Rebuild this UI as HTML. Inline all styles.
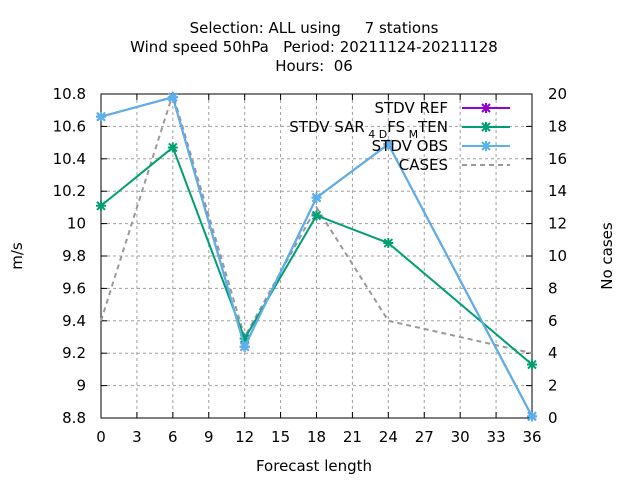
<!DOCTYPE html>
<html><head><meta charset="utf-8"><style>
body{margin:0;background:#fff}
text{font-family:"DejaVu Sans","Liberation Sans",sans-serif;font-size:15px;fill:#000}
</style></head><body>
<svg id="chart" width="640" height="480" xmlns="http://www.w3.org/2000/svg">
<rect width="640" height="480" fill="#fff"/>
<g>
<text x="314" y="33" text-anchor="middle" xml:space="preserve">Selection: ALL using     7 stations</text>
<text x="314" y="52" text-anchor="middle" xml:space="preserve">Wind speed 50hPa   Period: 20211124-20211128</text>
<text x="314" y="71" text-anchor="middle" xml:space="preserve">Hours:  06</text>
</g>
<g id="grid"></g>
<g id="axes"></g>
<g id="series"></g>
<g id="legend"></g>
<text x="22" y="256" text-anchor="middle" transform="rotate(-90 22 256)">m/s</text>
<text x="612" y="256" text-anchor="middle" transform="rotate(-90 612 256)">No cases</text>
<text x="314" y="471" text-anchor="middle">Forecast length</text>
</svg>
<script>
const hours=[0,6,12,18,24,36];
const stdvRef=[10.66,10.78,9.24,10.16,10.49,8.81];
const stdvSar=[10.11,10.47,9.29,10.05,9.88,9.13];
const stdvObs=[10.66,10.78,9.24,10.16,10.49,8.81];
const cases=[6,20,5,13,6,4];
const xTicks=[0,3,6,9,12,15,18,21,24,27,30,33,36];
const yTicks=[8.8,9,9.2,9.4,9.6,9.8,10,10.2,10.4,10.6,10.8];
const y2Ticks=[0,2,4,6,8,10,12,14,16,18,20];
const L=101,R=532,T=94,B=418;
const X=v=>L+(v-0)/36*(R-L);
const Y=v=>B-(v-8.8)/2*(B-T);
const Y2=v=>B-v/20*(B-T);
const NS='http://www.w3.org/2000/svg';
function mk(tag,attrs,parent,txt){const e=document.createElementNS(NS,tag);for(const k in attrs)e.setAttribute(k,attrs[k]);if(txt!==undefined)e.textContent=txt;parent.appendChild(e);return e;}
const grid=document.getElementById('grid'),axes=document.getElementById('axes'),ser=document.getElementById('series'),leg=document.getElementById('legend');
xTicks.forEach(t=>{const x=X(t);
 if(t>0&&t<36){const g=mk('line',{x1:x,x2:x,y1:T,y2:B,stroke:'#a0a0a0','stroke-dasharray':'3,3'},grid);}
 mk('line',{x1:x,x2:x,y1:B,y2:B-6,stroke:'#000'},axes);mk('line',{x1:x,x2:x,y1:T,y2:T+6,stroke:'#000'},axes);
 const tx=mk('text',{x:x,y:B+24,'text-anchor':'middle'},axes,String(t));});
yTicks.forEach(t=>{const y=Y(t);
 if(t>8.8&&t<10.8){const g=mk('line',{x1:L,x2:R,y1:y,y2:y,stroke:'#a0a0a0','stroke-dasharray':'3,3'},grid);}
 mk('line',{x1:L,x2:L+6,y1:y,y2:y,stroke:'#000'},axes);
 const tx=mk('text',{x:L-15,y:y+5,'text-anchor':'end'},axes,String(t));});
y2Ticks.forEach(t=>{const y=Y2(t);
 mk('line',{x1:R-6,x2:R,y1:y,y2:y,stroke:'#000'},axes);
 const tx=mk('text',{x:R+16,y:y+5,'text-anchor':'start'},axes,String(t));});
mk('rect',{x:L,y:T,width:R-L,height:B-T,fill:'none',stroke:'#000'},axes);
function pts(arr,f){return arr.map((v,i)=>X(hours[i])+','+f(v)).join(' ');}
function star(x,y,c,p){mk('path',{d:`M${x-4},${y-4}L${x+4},${y+4}M${x-4},${y+4}L${x+4},${y-4}M${x-5},${y}L${x+5},${y}M${x},${y-5}L${x},${y+5}`,stroke:c,'stroke-width':2},p);}
const cl=mk('polyline',{points:pts(cases,Y2),fill:'none',stroke:'#999','stroke-width':2,'stroke-dasharray':'5,4'},ser);

[[stdvRef,'#9400d3','stdv-ref-line'],[stdvSar,'#009e73','stdv-sar-line'],[stdvObs,'#56b4e9','stdv-obs-line']].forEach(([d,c,n])=>{
 const g=mk('g',{},ser);
 mk('polyline',{points:pts(d,Y),fill:'none',stroke:c,'stroke-width':2},g);
 d.forEach((v,i)=>star(X(hours[i]),Y(v),c,g));});
[['STDV REF','#9400d3',108,false],['STDV SAR','#009e73',127,false],['STDV OBS','#56b4e9',146,false],['CASES','#999',165,true]].forEach(([t,c,y,dash],i)=>{
 const g=mk('g',{},leg);
 if(i===1){const tx=mk('text',{x:448,y:y+5,'text-anchor':'end'},g);tx.innerHTML='STDV SAR<tspan dy="6" font-size="11"> 4 D</tspan><tspan dy="-6">FS</tspan><tspan dy="6" font-size="11"> M</tspan><tspan dy="-6">TEN</tspan>';}
 else mk('text',{x:448,y:y+5,'text-anchor':'end'},g,t);
 const a={x1:462,x2:510,y1:y,y2:y,stroke:c,'stroke-width':2};if(dash)a['stroke-dasharray']='5,4';mk('line',a,g);
 if(!dash)star(486,y,c,g);});
</script>
</body></html>
